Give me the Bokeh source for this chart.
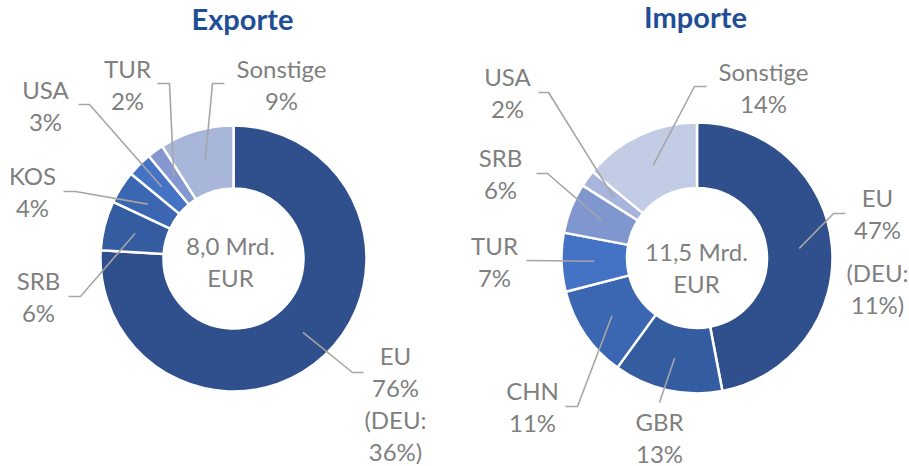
import math
from bokeh.plotting import figure
from bokeh.models import Range1d, ColumnDataSource
from bokeh.core.properties import value
from bokeh.embed import file_html
from bokeh.resources import INLINE

# ---------------- data ----------------
exp_title = "Exporte"
exp_names = ["EU", "SRB", "KOS", "USA", "TUR", "Sonstige"]
exp_values = [76, 6, 4, 3, 2, 9]
exp_deu = 36
exp_total = ["8,0 Mrd.", "EUR"]

imp_title = "Importe"
imp_names = ["EU", "GBR", "CHN", "TUR", "SRB", "USA", "Sonstige"]
imp_values = [47, 13, 11, 7, 6, 2, 14]
imp_deu = 11
imp_total = ["11,5 Mrd.", "EUR"]

# ---------------- styles ----------------
exp_colors = ["#2F4F8D", "#345CA0", "#3A66B2", "#4472C4", "#8497D0", "#A8B6DA"]
imp_colors = ["#2F4F8D", "#345CA0", "#3A66B2", "#4472C4", "#8096CF", "#A7B4DC", "#C2CCE5"]
TEXT_COL = "#7F7F7F"
LEAD_COL = "#A6A6A6"
TITLE_COL = "#1F4E96"
FONT = "Lato"
LBL_SIZE = "24px"
LINE_GAP = 32
HALF_CAP = -1.5      # offset from visual line centre to the text anchor
TITLE_SHIFT = -11

# layout (screen px): label x, first-line centre y, leader start, leader elbow, extra gap
exp_layout = dict(
    cx=233, cy=258, r_in=70, r_out=133, title_x=242, title_base=29, total_x=230, total_y=[246, 278],
    labels={
        "EU": (395, 356, (363, 372), (352, 372), 0),
        "SRB": (38, 281, (68, 296), (80, 296), 0),
        "KOS": (32, 176, (63, 191), (75, 191), 0),
        "USA": (45, 90, (78, 104), (89, 104), 0),
        "TUR": (127, 69, (157, 83), (169, 83), 0),
        "Sonstige": (281, 69, (224, 83), (212, 83), 0),
    })
imp_layout = dict(
    cx=696.5, cy=257.5, r_in=70, r_out=135.5, title_x=695, title_base=27, total_x=696, total_y=[252, 284],
    labels={
        "EU": (877, 198, (845, 213), (833, 213), 11),
        "GBR": (659, 422, (659, 402), (659, 402), 0),
        "CHN": (532, 391, (565, 406), (577, 406), 0),
        "TUR": (494, 246, (526, 260), (526, 260), 0),
        "SRB": (500, 158, (536, 173), (547, 173), 0),
        "USA": (507, 77, (538, 92), (548, 92), 0),
        "Sonstige": (763, 72, (706, 86), (694, 86), 0),
    })

W, H = 909, 466
def Y(sy):
    return H - sy

p = figure(width=W, height=H, x_range=Range1d(0, W), y_range=Range1d(0, H),
           output_backend="svg", toolbar_location=None, min_border=0,
           x_axis_location=None, y_axis_location=None)
p.grid.visible = False
p.outline_line_color = None
p.background_fill_color = "white"
p.border_fill_color = "white"


def donut(title, names, values, colors, deu, total, lay):
    tot = sum(values)
    cum = [0]
    for v in values:
        cum.append(cum[-1] + v)
    starts = [math.pi / 2 - 2 * math.pi * c / tot for c in cum[:-1]]
    ends = [math.pi / 2 - 2 * math.pi * c / tot for c in cum[1:]]
    cx, cy = lay["cx"], Y(lay["cy"])
    src = ColumnDataSource(dict(x=[cx] * len(values), y=[cy] * len(values),
                                s=starts, e=ends, c=colors))
    p.annular_wedge(x="x", y="y", inner_radius=lay["r_in"], outer_radius=lay["r_out"],
                    start_angle="s", end_angle="e", direction="clock",
                    fill_color="c", line_color="white", line_width=2.5, source=src)
    r_mid = (lay["r_in"] + lay["r_out"]) / 2
    tx = []
    for i, (n, v) in enumerate(zip(names, values)):
        lx, ly, st, el, extra = lay["labels"][n]
        th = 2 * math.pi * (cum[i] + cum[i + 1]) / 2 / tot
        ex = cx + r_mid * math.sin(th)
        ey = cy + r_mid * math.cos(th)
        p.line([st[0], el[0], ex], [Y(st[1]), Y(el[1]), ey], line_color=LEAD_COL, line_width=1.6)
        lines = [n, f"{v}%"]
        if n == "EU":
            lines += ["(DEU:", f"{deu}%)"]
        for k, t in enumerate(lines):
            yy = ly + k * LINE_GAP + (extra if k >= 2 else 0)
            tx.append((lx, Y(yy + HALF_CAP), t))
    p.text(x=[a for a, b, c in tx], y=[b for a, b, c in tx], text=[c for a, b, c in tx],
           text_font=value(FONT), text_font_size=LBL_SIZE, text_color=TEXT_COL,
           text_align="center", text_baseline="alphabetic")
    p.text(x=[lay["total_x"]] * 2, y=[Y(v + HALF_CAP) for v in lay["total_y"]], text=total,
           text_font=value(FONT), text_font_size=LBL_SIZE, text_color=TEXT_COL,
           text_align="center", text_baseline="alphabetic")
    p.text(x=[lay["title_x"]], y=[Y(lay["title_base"] + TITLE_SHIFT)], text=[title],
           text_font=value(FONT), text_font_size="29px", text_font_style="bold",
           text_color=TITLE_COL, text_align="center", text_baseline="alphabetic")


donut(exp_title, exp_names, exp_values, exp_colors, exp_deu, exp_total, exp_layout)
donut(imp_title, imp_names, imp_values, imp_colors, imp_deu, imp_total, imp_layout)

open("out.html", "w").write(file_html(p, INLINE))
